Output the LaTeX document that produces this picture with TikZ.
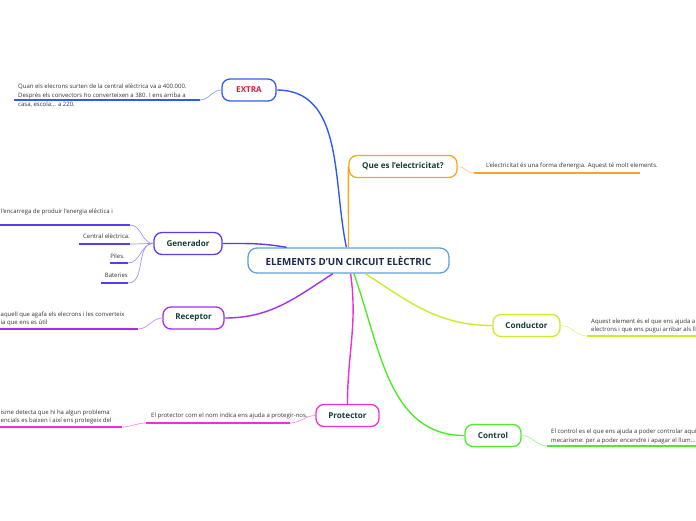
\documentclass[tikz,border=0pt]{standalone}
\usepackage{fontspec}
\setmainfont{Open Sans}
\usetikzlibrary{calc}
\definecolor{mmSky}{HTML}{5FA2DD}
\definecolor{mmNavy}{HTML}{1C2B4B}
\definecolor{mmInk}{HTML}{153F3A}
\definecolor{mmText}{HTML}{333333}
\definecolor{mmBlue}{HTML}{2F5BF2}
\definecolor{mmRed}{HTML}{D81B3C}
\definecolor{mmOrange}{HTML}{F5A623}
\definecolor{mmIndigo}{HTML}{5B3BF0}
\definecolor{mmViolet}{HTML}{A52EEF}
\definecolor{mmMagenta}{HTML}{EE2FD6}
\definecolor{mmLime}{HTML}{CDEB2C}
\definecolor{mmGreen}{HTML}{4EEB2A}
\tikzset{
  central/.style = {draw=mmSky, line width=1.3pt, rounded corners=9pt, fill=white,
                    minimum width=201pt, minimum height=25pt, text=mmNavy,
                    font=\fontsize{9.8}{11}\selectfont\bfseries},
  topic/.style   = {draw=#1, line width=1.3pt, rounded corners=8pt, fill=white,
                    minimum height=22pt, text=mmInk, font=\fontsize{8.1}{9}\selectfont\bfseries},
  branch/.style  = {#1, line width=1.4pt},
  twig/.style    = {#1!55, line width=0.7pt},
  uline/.style   = {#1, line width=1.8pt},
  leaf/.style    = {anchor=north west, inner sep=0pt, align=left, text=mmText,
                    font=\fontsize{6}{8.6}\selectfont},
}

\begin{document}
\begin{tikzpicture}[x=1pt,y=1pt]
  \useasboundingbox (0,0) rectangle (696,-520);
  \clip (0,0) rectangle (696,-520);
  % central topic and main topics
  \node[central] (elem) at (348.5,-260.5) {ELEMENTS D'UN CIRCUIT ELÈCTRIC};
  \node[topic=mmBlue, text=mmRed, minimum width=54pt] (extra) at (249,-90) {EXTRA};
  \node[topic=mmOrange, minimum width=108pt] (quees) at (403,-166.5) {Que es l'electricitat?};
  \node[topic=mmIndigo, minimum width=68pt] (gen) at (188,-243.5) {Generador};
  \node[topic=mmViolet, minimum width=61pt] (rec) at (193.5,-318) {Receptor};
  \node[topic=mmMagenta, minimum width=63pt] (prot) at (347.5,-415.5) {Protector};
  \node[topic=mmLime, minimum width=67pt] (cond) at (526.5,-325.5) {Conductor};
  \node[topic=mmGreen, minimum width=56pt] (ctrl) at (493,-435.5) {Control};

  % branches
  \draw[branch=mmBlue] (elem.99) to[out=102,in=0] (extra.east);
  \draw[branch=mmOrange] (elem.north) to[out=90,in=-90] (quees.west);
  \draw[branch=mmIndigo] (elem.168) to[out=170,in=0] (gen.east);
  \draw[branch=mmViolet] (elem.220) to[out=213,in=0] (rec.east);
  \draw[branch=mmMagenta] (elem.-81) to[out=-82,in=90] (prot.north);
  \draw[branch=mmLime] (elem.-38) to[out=-33,in=180] (cond.west);
  \draw[branch=mmGreen] (elem.-68) to[out=-70,in=180] (ctrl.west);

  % EXTRA
  \node[leaf, font=\fontsize{6}{9}\selectfont] (xleaf) at (18,-83.5)
    {Quan els elecrons surten de la central elèctrica va a 400.000.\\
     Després els convectors ho converteixen a 380. I ens arriba a\\
     casa, escola... a 220.};
  \coordinate (xa) at (14,-100);
  \coordinate (xb) at (200,-100);
  \draw[uline=mmBlue] (xa) -- (xb);
  \draw[twig=mmBlue] (xb) to[out=0,in=180] (extra.west);

  % Que es
  \node[leaf] (qleaf) at (486,-162.5) {L'electricitat és una forma d'energia. Aquest té molt elements.};
  \coordinate (qa) at (474,-173);
  \coordinate (qb) at (640,-173);
  \draw[uline=mmOrange] (qa) -- (qb);
  \draw[twig=mmOrange] (quees.east) to[out=0,in=180] (qa);

  % Generador
  \node[leaf, anchor=north east] (g1) at (113,-208.5) {l'encarrega de produir l'energia eléctica i};
  \node[leaf, anchor=north east] (g2) at (130,-234) {Central elèctrica.};
  \node[leaf, anchor=north east] (g3) at (125,-253.5) {Piles.};
  \node[leaf, anchor=north east] (g4) at (128,-272.5) {Bateries};
  \coordinate (g1a) at (0,-225);   \coordinate (g1b) at (130,-225);
  \coordinate (g2a) at (79,-244);  \coordinate (g2b) at (130,-244);
  \coordinate (g3a) at (110,-263); \coordinate (g3b) at (128,-263);
  \coordinate (g4a) at (101,-283); \coordinate (g4b) at (128,-283);
  \foreach \i in {1,...,4} {
    \draw[uline=mmIndigo] (g\i a) -- (g\i b);
    \draw[twig=mmIndigo] (gen.west) to[out=180,in=0] (g\i b);
  }

  % Receptor
  \node[leaf] (rleaf) at (0.5,-311.5)
    {aquell que agafa els elecrons i les converteix\\
     ia que ens es útil};
  \coordinate (ra) at (0,-329);
  \coordinate (rb) at (138,-329);
  \draw[uline=mmViolet] (ra) -- (rb);
  \draw[twig=mmViolet] (rb) to[out=0,in=180] (rec.west);

  % Protector
  \node[leaf] (p1) at (151,-412.5) {El protector com el nom indica ens ajuda a protegir-nos.};
  \node[leaf] (p2) at (0.5,-409.5)
    {isme detecta que hi ha algun problema\\
     encials es baixen i així ens protegeix del};
  \coordinate (p1a) at (146,-423); \coordinate (p1b) at (290,-423);
  \coordinate (p2a) at (0,-427);   \coordinate (p2b) at (122,-427);
  \draw[uline=mmMagenta] (p1a) -- (p1b);
  \draw[uline=mmMagenta] (p2a) -- (p2b);
  \draw[twig=mmMagenta] (p1b) to[out=0,in=180] (prot.west);
  \draw[twig=mmMagenta] (p1a) to[out=180,in=0] (p2b);

  % Conductor
  \node[leaf] (cleaf) at (591,-318.5)
    {Aquest element és el que ens ajuda a\\
     electrons i que ens pugui arribar als ll};
  \coordinate (ca) at (587,-336);
  \coordinate (cb) at (700,-336);
  \draw[uline=mmLime] (ca) -- (cb);
  \draw[twig=mmLime] (cond.east) to[out=0,in=180] (ca);

  % Control
  \node[leaf] (tleaf) at (551,-429)
    {El control es el que ens ajuda a poder controlar aqui\\
     mecarisme: per a poder encendre i apagar el llum...};
  \coordinate (ta) at (547,-446);
  \coordinate (tb) at (700,-446);
  \draw[uline=mmGreen] (ta) -- (tb);
  \draw[twig=mmGreen] (ctrl.east) to[out=0,in=180] (ta);
\end{tikzpicture}
\end{document}
